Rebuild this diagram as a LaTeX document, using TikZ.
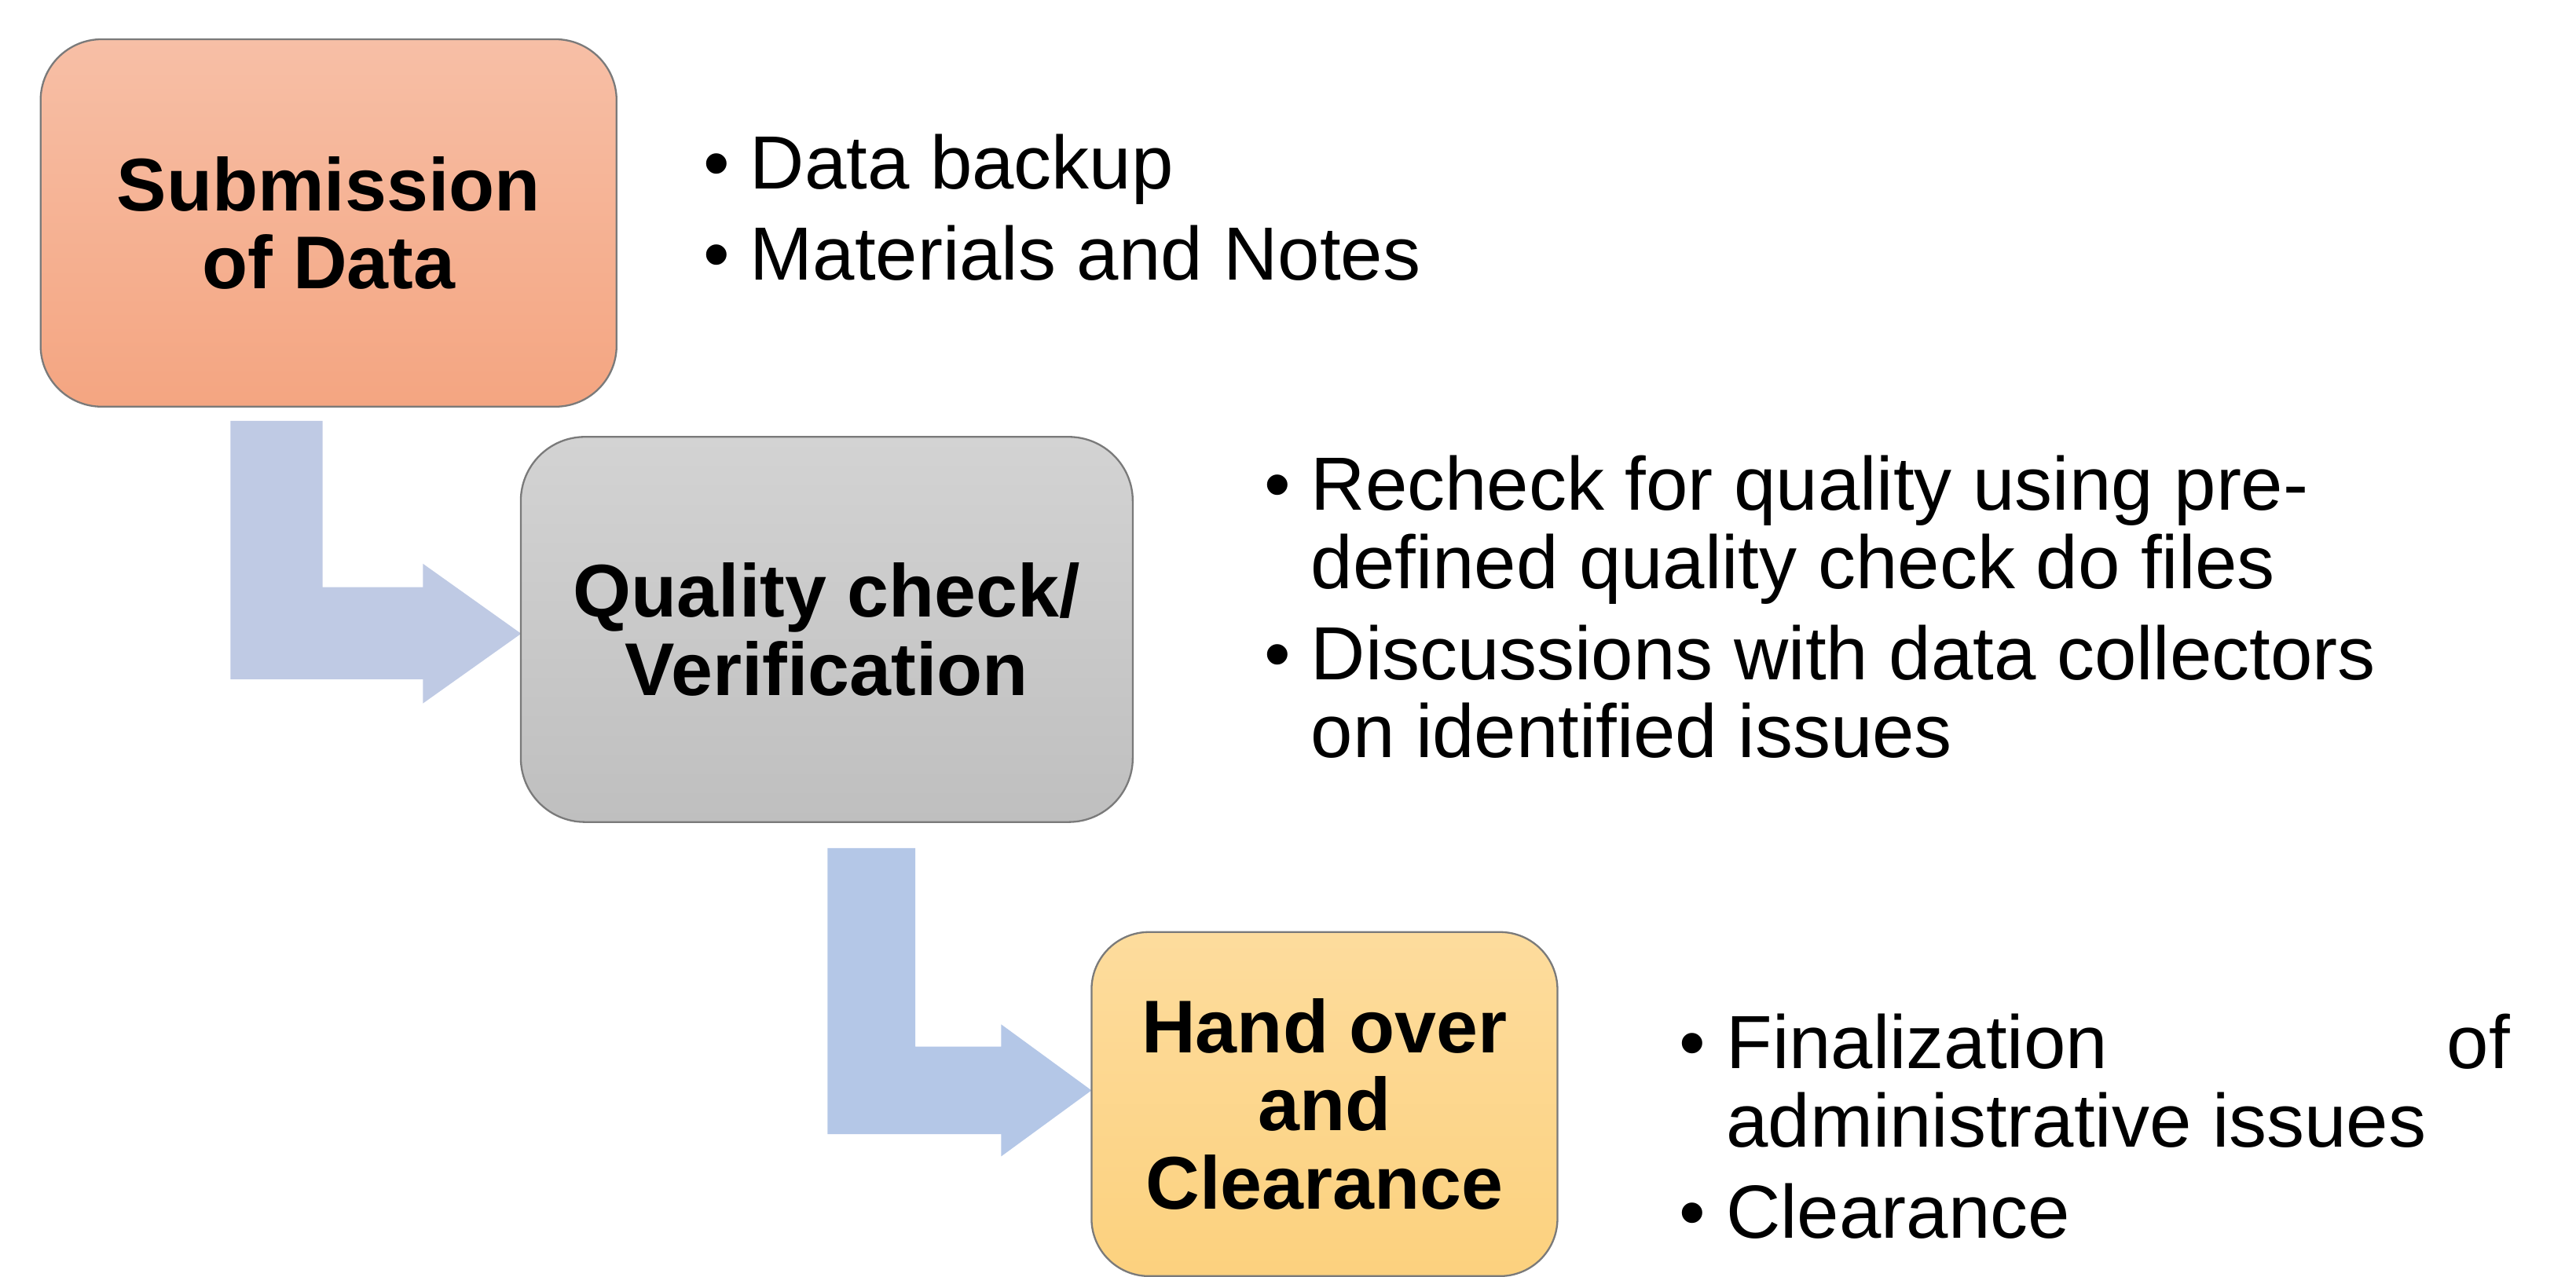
\documentclass[tikz,border=0pt]{standalone}
\usepackage{fontspec}
\setmainfont{Liberation Sans}

\definecolor{subTop}{HTML}{F7BFA6}
\definecolor{subBot}{HTML}{F4A581}
\definecolor{qcTop}{HTML}{D3D3D3}
\definecolor{qcBot}{HTML}{BFBFBF}
\definecolor{hoTop}{HTML}{FDDC9D}
\definecolor{hoBot}{HTML}{FCD17E}
\definecolor{arrowA}{HTML}{BFCAE4}
\definecolor{arrowB}{HTML}{B4C7E7}
\definecolor{edge}{HTML}{7A7A7A}

\tikzset{
  stage/.style={draw=edge, line width=0.55pt, inner sep=0pt, align=center,
    font=\fontsize{22.75}{23.75}\selectfont\bfseries},
  bullets/.style={inner sep=0pt, anchor=base west,
    font=\fontsize{22.95}{23.75}\selectfont},
}

\newcommand{\bulletmark}{\makebox[14.25pt][l]{•}}

\begin{document}
\begin{tikzpicture}[x=0.5pt,y=-0.5pt]
\useasboundingbox (0,0) rectangle (1568,777.5);

% bent block arrows between the stages
\fill[arrowA] (140.3,256.2) -- (196.4,256.2) -- (196.4,357.5) -- (257.4,357.5)
  -- (257.4,343.2) -- (317.2,385.8) -- (257.4,428.3) -- (257.4,413.6)
  -- (140.3,413.6) -- cycle;
\fill[arrowB] (503.7,516.4) -- (557.1,516.4) -- (557.1,637.3) -- (609.4,637.3)
  -- (609.4,623.7) -- (664.4,663.9) -- (609.4,704.1) -- (609.4,690.5)
  -- (503.7,690.5) -- cycle;

% stages
\node[stage, minimum width=175.3pt, minimum height=111.85pt, rounded corners=18.6pt,
  top color=subTop, bottom color=subBot] (sub) at (200,135.75) {Submission\\of Data};
\node[stage, minimum width=186.25pt, minimum height=117.25pt, rounded corners=19.5pt,
  top color=qcTop, bottom color=qcBot] (qc) at (503.25,383.25) {Quality check/\\Verification};
\node[stage, minimum width=141.8pt, minimum height=104.75pt, rounded corners=17.5pt,
  top color=hoTop, bottom color=hoBot] (ho) at (806.2,672.25) {Hand over\\and\\Clearance};

% bullet lists
\node[bullets] (subList) at (427.7,115.1) {%
\begin{tabular}[t]{@{}l@{}l@{}}
\bulletmark & Data backup\\[4pt]
\bulletmark & Materials and Notes
\end{tabular}};

\node[bullets] (qcList) at (769.1,310.8) {%
\begin{tabular}[t]{@{}l@{}l@{}}
\bulletmark & Recheck for quality using pre-\\
 & defined quality check do files\\[4pt]
\bulletmark & Discussions with data collectors\\
 & on identified issues
\end{tabular}};

\node[bullets] (hoList) at (1021.9,650.7) {%
\begin{tabular}[t]{@{}l@{}l@{}}
\bulletmark & \hbox to 238.5pt{Finalization\hfill of}\\
 & administrative issues\\[4pt]
\bulletmark & Clearance
\end{tabular}};
\end{tikzpicture}
\end{document}
